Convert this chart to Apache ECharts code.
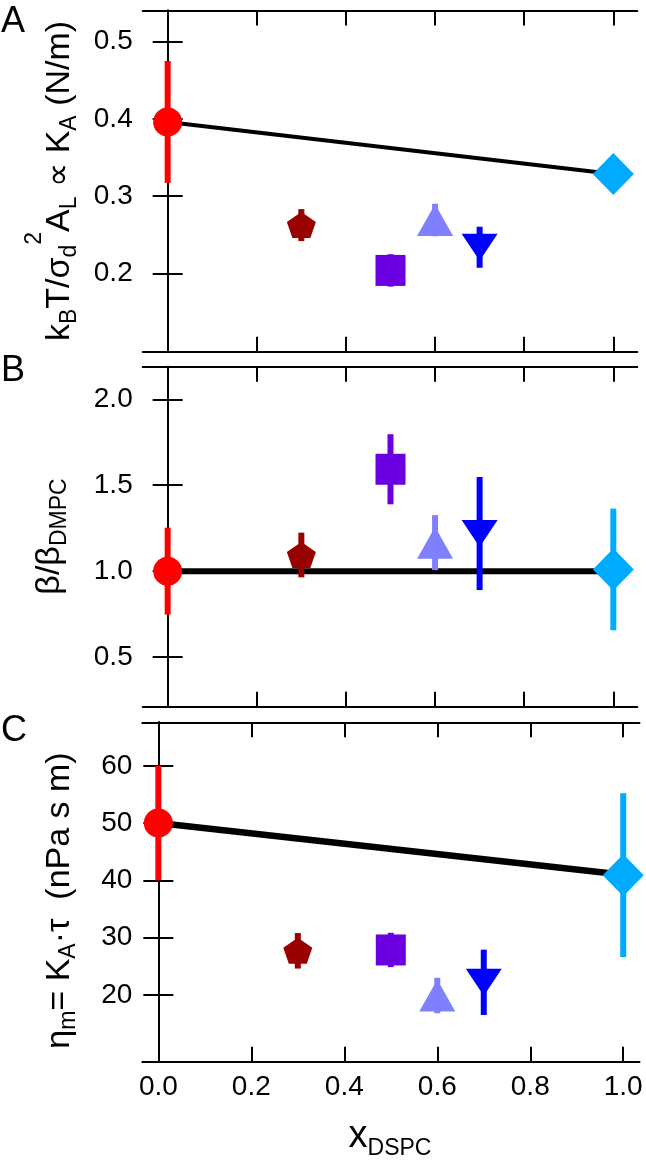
<!DOCTYPE html>
<html><head><meta charset="utf-8">
<script src="https://cdn.jsdelivr.net/npm/echarts@6/dist/echarts.min.js"></script>
<style>html,body{margin:0;padding:0;background:#fff}#c{width:646px;height:1166px}</style>
</head><body><div id="c"></div><script>
// ---- data ----
const xValues   = [0.0, 0.3, 0.5, 0.6, 0.7, 1.0];
const kaValues  = [0.396, 0.2624, 0.2037, 0.269, 0.2337, 0.3285];
const kaErrors  = [0.079, 0.0207, 0.021, 0.021, 0.0266, 0];
const betaValues = [1.0, 1.094, 1.593, 1.166, 1.219, 1.01];
const betaErrors = [0.253, 0.13, 0.204, 0.16, 0.329, 0.354];
const etaValues = [50, 27.7, 27.85, 19.9, 22.2, 40.9];
const etaErrors = [10, 3.1, 3.0, 3.1, 5.7, 14.3];
const lineX     = [0.0, 1.0];
const kaLine    = [0.396, 0.3285];
const betaLine  = [1.0, 1.0];
const etaLine   = [50, 41];
const xTicks    = [0, 0.2, 0.4, 0.6, 0.8, 1.0];
const kaTicks   = [0.2, 0.3, 0.4, 0.5];
const betaTicks = [0.5, 1.0, 1.5, 2.0];
const etaTicks  = [20, 30, 40, 50, 60];

// ---- styles ----
const colors  = ['#ff0000', '#990000', '#6a00e0', '#8080ff', '#0000ff', '#00aaff'];
const PENT = 'path://M50,0 L97.55,34.55 L79.39,90.45 L20.61,90.45 L2.45,34.55 Z';
const symbols = ['circle', PENT, 'rect', 'triangle', 'triangle', 'diamond'];
const sizes   = [[29,29],[29,26],[30,31],[36,32],[36,27],[41,42]];
const rotates = [0,0,0,0,180,0];
const FONT = '"Liberation Sans", Arial, "DejaVu Sans", sans-serif';

const grids = [
  {left:142.7, right:8.7, top:10.5, height:341.2, xr:[-0.056,1.0538], yr:[0.0984,0.5404], yt:kaTicks, dec:1},
  {left:142.7, right:8.7, top:366.7, height:340, xr:[-0.056,1.0538], yr:[0.211,2.19], yt:betaTicks, dec:1},
  {left:142.3, right:6.5, top:722.3, height:339.4, xr:[-0.0345,1.035], yr:[8.34,67.6], yt:etaTicks, dec:0}
];
const panels = [
  {vals:kaValues, errs:kaErrors, line:kaLine, lw:4},
  {vals:betaValues, errs:betaErrors, line:betaLine, lw:6},
  {vals:etaValues, errs:etaErrors, line:etaLine, lw:6.5}
];

const axLine = {show:true, lineStyle:{color:'#000', width:2}};
const tick = (vals) => ({show:true, inside:true, length:15, lineStyle:{color:'#000', width:2}, customValues: vals});
const xAxis = [], yAxis = [], series = [];
grids.forEach((g, i) => {
  xAxis.push({type:'value', gridIndex:i, position:'bottom', min:g.xr[0], max:g.xr[1],
    axisLine:axLine, axisTick:tick(xTicks), splitLine:{show:false},
    axisLabel:{show:i===2, customValues:xTicks, margin:12, fontSize:28, color:'#000', fontFamily:FONT,
      formatter:v=>v.toFixed(1)}});
  xAxis.push({type:'value', gridIndex:i, position:'top', min:g.xr[0], max:g.xr[1],
    axisLine:axLine, axisTick:tick(xTicks), splitLine:{show:false}, axisLabel:{show:false}});
  yAxis.push({type:'value', gridIndex:i, position:'left', min:g.yr[0], max:g.yr[1],
    axisLine:axLine, axisTick:tick(g.yt), splitLine:{show:false},
    axisLabel:{show:true, customValues:g.yt, margin:10, fontSize:28, color:'#000', fontFamily:FONT,
      formatter:v=>v.toFixed(g.dec)}});
  yAxis.push({type:'value', gridIndex:i, position:'right', min:g.yr[0], max:g.yr[1],
    axisLine:axLine, axisTick:tick(g.yt), splitLine:{show:false}, axisLabel:{show:false}});
  const p = panels[i];
  series.push({type:'line', xAxisIndex:2*i, yAxisIndex:2*i, z:2, symbol:'none', silent:true,
    lineStyle:{color:'#000', width:p.lw}, data: lineX.map((x,k)=>[x, p.line[k]])});
  series.push({type:'custom', xAxisIndex:2*i, yAxisIndex:2*i, z:3, silent:true,
    data: xValues.map((x,k)=>[x, p.vals[k], p.errs[k]]),
    renderItem:(params, api)=>{
      const x = api.value(0), y = api.value(1), e = api.value(2);
      const a = api.coord([x, y+e]), b = api.coord([x, y-e]);
      return {type:'rect', shape:{x:a[0]-3, y:a[1], width:6, height:b[1]-a[1]},
        style:{fill:colors[params.dataIndex]}};
    }});
  series.push({type:'scatter', xAxisIndex:2*i, yAxisIndex:2*i, z:4, silent:true,
    data: xValues.map((x,k)=>({value:[x, p.vals[k]], symbol:symbols[k], symbolSize:sizes[k],
      symbolRotate:rotates[k], itemStyle:{color:colors[k], opacity:1}}))});
});

const rich = {
  m:{fontSize:34, lineHeight:74, fontFamily:FONT, color:'#000'},
  s:{fontSize:23, verticalAlign:'bottom', padding:[0,0,16,0], fontFamily:FONT, color:'#000'},
  p:{fontSize:23, verticalAlign:'top', padding:[0,0,0,0], fontFamily:FONT, color:'#000'},
  X:{fontSize:38, lineHeight:74, fontFamily:FONT, color:'#000'},
  S:{fontSize:23, verticalAlign:'bottom', padding:[0,0,13,0], fontFamily:FONT, color:'#000'},
  L:{fontSize:36, fontFamily:FONT, color:'#000'}
};
const vtitle = (text, x, y) => ({type:'text', x:x, y:y, rotation:Math.PI/2,
  style:{text:text, rich:rich, align:'center', verticalAlign:'middle'}});
const letter = (t, y) => ({type:'text', x:1, y:y, style:{text:'{L|'+t+'}', rich:rich, align:'left', verticalAlign:'middle'}});

const chart = echarts.init(document.getElementById('c'), null, {renderer:'canvas'});
chart.setOption({
  animation:false, backgroundColor:'#fff',
  grid: grids.map(g=>({left:g.left, right:g.right, top:g.top, height:g.height, outerBoundsMode:'none', containLabel:false})),
  xAxis, yAxis, series,
  graphic:[
    letter('A', 22), letter('B', 371), letter('C', 731.5),
    vtitle('{m|k}{s|B}{m|T/σ}{s|d}{p|2}{m|A}{s|L}{m| ∝ K}{s|A}{m| (N/m)}', 60, 181),
    vtitle('{m|β/β}{s|DMPC}', 50, 536.5),
    vtitle('{m|η}{s|m}{m|= K}{s|A}{m|·τ  (nPa s m)}', 59.5, 900.5),
    {type:'text', x:390, y:1136.6, style:{text:'{X|x}{S|DSPC}', rich:rich, align:'center', verticalAlign:'middle'}}
  ]
});
</script></body></html>
